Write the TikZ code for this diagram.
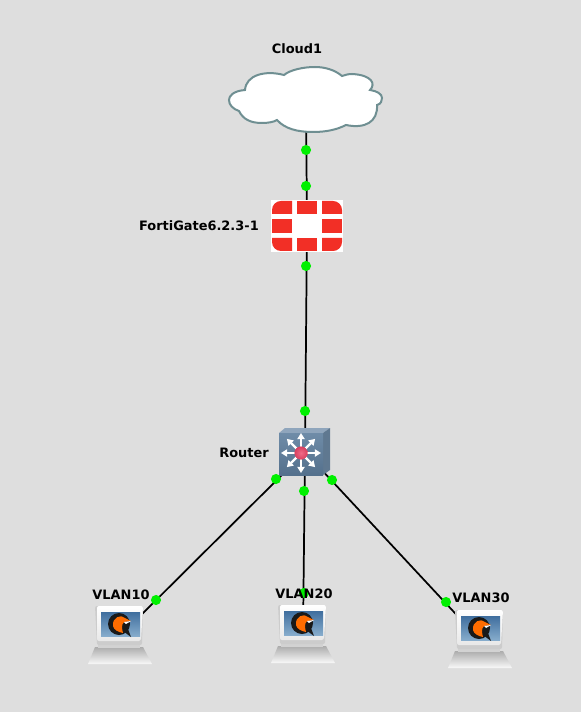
\documentclass[tikz,border=0pt]{standalone}
\usepackage{fontspec}
\setmainfont{DejaVu Sans}
\usetikzlibrary{arrows.meta}
\definecolor{bg}{HTML}{DEDEDE}
\definecolor{cloudline}{HTML}{6F8F92}
\definecolor{fortired}{HTML}{F22F26}
\definecolor{dotgreen}{HTML}{00F000}
\definecolor{rfront}{HTML}{6F8CA8}
\definecolor{rfrontb}{HTML}{54708C}
\definecolor{rtop}{HTML}{8FA5BC}
\definecolor{rside}{HTML}{5F7890}
\definecolor{scrtop}{HTML}{3F6E9E}
\definecolor{scrbot}{HTML}{86ACCC}
\definecolor{ballin}{HTML}{F06A88}
\definecolor{ballout}{HTML}{D8405F}
\tikzset{
  x=0.75pt,y=-0.75pt,
  anchorpt/.style={circle,inner sep=0pt,minimum size=1pt},
  lbl/.style={font=\bfseries\fontsize{9.7pt}{11pt}\selectfont,text=black,inner sep=0pt},
  link/.style={draw=black,line width=1.3pt},
  dot/.style={circle,fill=dotgreen,inner sep=0pt,minimum size=7.6pt},
  cell/.style={fill=fortired},
  spoke/.style={draw=white,line width=1.8pt,-{Triangle[length=4.6pt,width=5.4pt]}},
  laptop/.pic={
    % base
    \shade[top color=gray!65,bottom color=gray!5] (-25,11) -- (23,11) -- (32,28) -- (-32,28) -- cycle;
    % neck
    \fill[gray!35] (-22,8) rectangle (20,12);
    % monitor
    \fill[gray!40,rounded corners=1.5pt] (-25,-30) -- (23,-30) -- (22,9) -- (-23,9) -- cycle;
    \shade[top color=white,bottom color=gray!18,rounded corners=1.5pt] (-23,-30) -- (23,-30) -- (21,5) -- (-23,5) -- cycle;
    % screen
    \shade[top color=scrtop,bottom color=scrbot] (-19,-24) rectangle (20,0);
    % logo
    \fill[black!90] (-1,-12) circle (11);
    \fill[black!90] (3,-5) -- (11,1) -- (8,-7) -- cycle;
    \fill[orange!85!red] (-7,-10) .. controls (-8,-19) and (1,-22) .. (5,-18) -- (11,-15) -- (4,-14) .. controls (1,-11) and (2,-7) .. (3,-3) .. controls (-2,-4) and (-6,-6) .. (-7,-10) -- cycle;
    \fill[white] (4,-14) -- (11,-15) -- (6,-12) -- cycle;
  }
}
\begin{document}
\begin{tikzpicture}
\useasboundingbox[fill=bg] (0,0) rectangle (581,712);
% anchors
\node[anchorpt] (cloud) at (306,100) {};
\node[anchorpt] (fw) at (307,225) {};
\node[anchorpt] (router) at (305,452) {};
\node[anchorpt] (pc1) at (120,636) {};
\node[anchorpt] (pc2) at (303,635) {};
\node[anchorpt] (pc3) at (480,640) {};
% connectors
\draw[link] (cloud) -- (fw);
\draw[link] (fw) -- (router);
\draw[link] (router) -- (pc1);
\draw[link] (router) -- (pc2);
\draw[link] (router) -- (pc3);
% cloud
\draw[draw=cloudline,fill=white,line width=1.5pt]
  (245,90) .. controls (233,91) and (229,96) .. (229,100)
  .. controls (229,105) and (233,109) .. (239,111)
  .. controls (243,119) and (250,123) .. (262,123)
  .. controls (268,123) and (274,122) .. (277,120)
  .. controls (285,129) and (298,132) .. (313,132)
  .. controls (328,132) and (338,129) .. (346,125)
  .. controls (365,129) and (378,122) .. (377,105)
  .. controls (381,104) and (382,101) .. (382,98)
  .. controls (382,94) and (377,91) .. (370,90)
  .. controls (376,84) and (372,75) .. (352,74)
  .. controls (348,74) and (345,75) .. (342,76)
  .. controls (335,70) and (325,67) .. (315,67)
  .. controls (303,67) and (290,70) .. (284,75)
  .. controls (265,70) and (246,75) .. (245,90) -- cycle;
% firewall
\fill[white] (271,200) rectangle (343,252);
\fill[cell] (272,214) -- (272,210) .. controls (272,205) and (276,201) .. (281,201) -- (292,201) -- (292,214) -- cycle;
\fill[cell] (297,201) rectangle (317,214);
\fill[cell] (342,214) -- (342,210) .. controls (342,205) and (338,201) .. (333,201) -- (322,201) -- (322,214) -- cycle;
\fill[cell] (272,219) rectangle (292,233);
\fill[cell] (322,219) rectangle (342,233);
\fill[cell] (272,238) -- (272,242) .. controls (272,247) and (276,251) .. (281,251) -- (292,251) -- (292,238) -- cycle;
\fill[cell] (297,238) rectangle (317,251);
\fill[cell] (342,238) -- (342,242) .. controls (342,247) and (338,251) .. (333,251) -- (322,251) -- (322,238) -- cycle;
% router
\fill[rtop] (279,433) -- (285,428) -- (330,428) -- (323,433) -- cycle;
\fill[rside] (323,433) -- (330,428) -- (330,470) -- (323,475) -- cycle;
\shade[top color=rfront,bottom color=rfrontb] (279,433) rectangle (323,475);
\foreach \a in {0,45,...,315}{
  \draw[spoke] (301,453) -- ++(\a:20);
}
\shade[inner color=ballin,outer color=ballout] (301,453) circle (6.6);
% laptops
\pic at (pc1) {laptop};
\pic at (pc2) {laptop};
\pic at (pc3) {laptop};
% green dots
\node[dot] (d1) at (306,150) {};
\node[dot] (d2) at (306,186) {};
\node[dot] (d3) at (306,266) {};
\node[dot] (d4) at (305,411) {};
\node[dot] (d5) at (276,479) {};
\node[dot] (d6) at (304,491) {};
\node[dot] (d7) at (332,480) {};
\node[dot] (d8) at (156,600) {};
\node[dot] (d9) at (304,593) {};
\node[dot] (d10) at (446,602) {};
% labels
\node[lbl] (t1) at (297,49) {Cloud1};
\node[lbl,anchor=east] (t2) at (259,226) {FortiGate6.2.3-1};
\node[lbl,anchor=east] (t3) at (269,453) {Router};
\node[lbl] (t4) at (121,595) {VLAN10};
\node[lbl] (t5) at (304,594) {VLAN20};
\node[lbl] (t6) at (481,598) {VLAN30};
\end{tikzpicture}
\end{document}
